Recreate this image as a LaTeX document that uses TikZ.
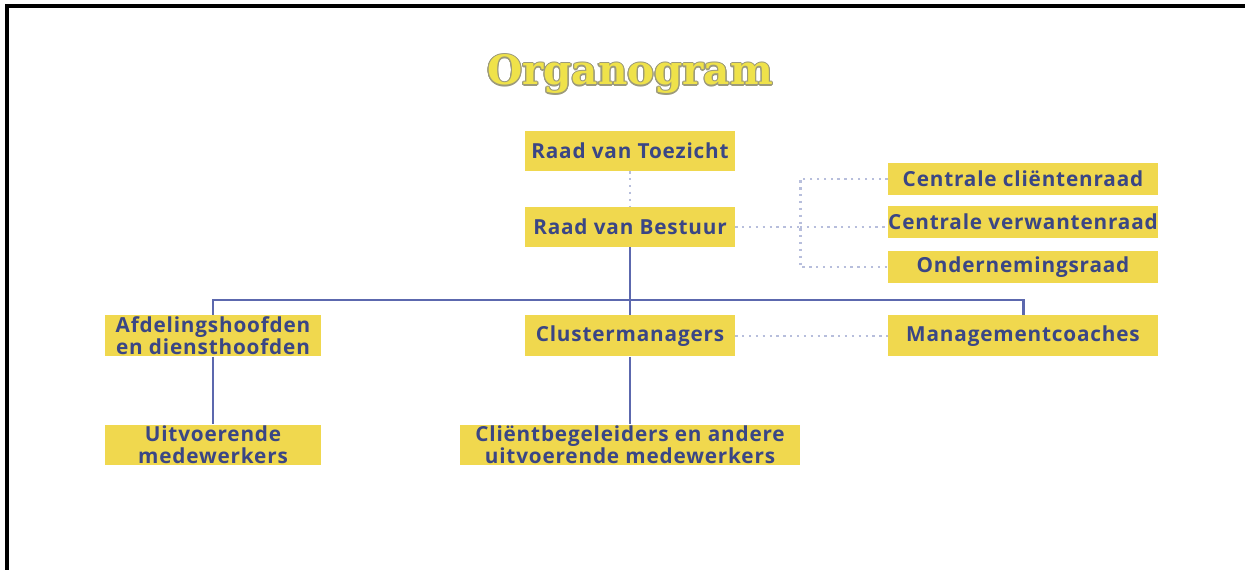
\documentclass[tikz,border=0pt]{standalone}
\usepackage{fontspec}
\setmainfont{Open Sans}
\newfontfamily\boxfont{Open Sans}[LetterSpace=4]
\newfontfamily\titlefont{DejaVu Serif}
\usepackage[copies]{contour}
\usetikzlibrary{positioning,calc}
\definecolor{boxfill}{HTML}{F0D84E}
\definecolor{boxtext}{HTML}{3A4685}
\definecolor{linkblue}{HTML}{5C68AE}
\definecolor{dotgrey}{HTML}{B7BEDC}
\definecolor{titlefill}{HTML}{EFE24A}
\definecolor{titleedge}{HTML}{9C9A7A}

\begin{document}
\begin{tikzpicture}[x=0.02cm, y=-0.02cm,
    box/.style={fill=boxfill, text=boxtext, align=center, inner sep=0pt,
                font=\boxfont\bfseries\fontsize{11.8}{12.6}\selectfont},
    link/.style={draw=linkblue, line width=1.7pt},
    dotlink/.style={draw=dotgrey, line width=1.7pt, dash pattern=on 1.3pt off 2.6pt}]
  \useasboundingbox (0,0) rectangle (1245,570);
  \fill[white] (0,0) rectangle (1245,570);
  \draw[line width=1.8pt] (7,570) -- (7,6) -- (1245,6);

  \node (title) at (630,75)
       {\titlefont\bfseries\fontsize{23}{27}\selectfont\contourlength{0.6pt}\contour{titleedge}{\textcolor{titlefill}{Organogram}}};

  % top of the organisation
  \node[box, minimum width=4.2cm, minimum height=0.8cm] (toezicht) at (630,151) {Raad van Toezicht};
  \node[box, minimum width=4.2cm, minimum height=0.8cm] (bestuur) at (630,227) {Raad van Bestuur};

  % advisory councils
  \node[box, minimum width=5.4cm, minimum height=0.64cm] (client) at (1023,179) {Centrale cliëntenraad};
  \node[box, minimum width=5.4cm, minimum height=0.64cm] (verwanten) at (1023,222) {Centrale verwantenraad};
  \node[box, minimum width=5.4cm, minimum height=0.64cm] (ondern) at (1023,267) {Ondernemingsraad};

  % middle layer
  \node[box, minimum width=4.34cm, minimum height=0.82cm] (afdeling) at (213,336) {Afdelingshoofden\\ en diensthoofden};
  \node[box, minimum width=4.2cm, minimum height=0.82cm] (cluster) at (630,336) {Clustermanagers};
  \node[box, minimum width=5.4cm, minimum height=0.82cm] (coaches) at (1023,336) {Managementcoaches};

  % bottom layer
  \node[box, minimum width=4.34cm, minimum height=0.82cm] (uitvoer) at (213,445) {Uitvoerende\\ medewerkers};
  \node[box, minimum width=6.82cm, minimum height=0.82cm] (begeleid) at (630,445) {Cliëntbegeleiders en andere\\ uitvoerende medewerkers};

  \coordinate (bus) at (630,300);
  \coordinate (split) at (800,227);

  \draw[dotlink] (toezicht) -- (bestuur);
  \draw[dotlink] (bestuur) -- (split);
  \draw[dotlink] (client.west) -| (split) |- (ondern.west);
  \draw[dotlink] (split) -- (split -| verwanten.west);
  \draw[dotlink] (cluster) -- (coaches);

  \draw[link] (bestuur) -- (bus);
  \draw[link] (afdeling.north) |- (bus) -| (coaches.north);
  \draw[link] (bus) -- (cluster);
  \draw[link] (afdeling) -- (uitvoer);
  \draw[link] (cluster) -- (begeleid);
\end{tikzpicture}
\end{document}
